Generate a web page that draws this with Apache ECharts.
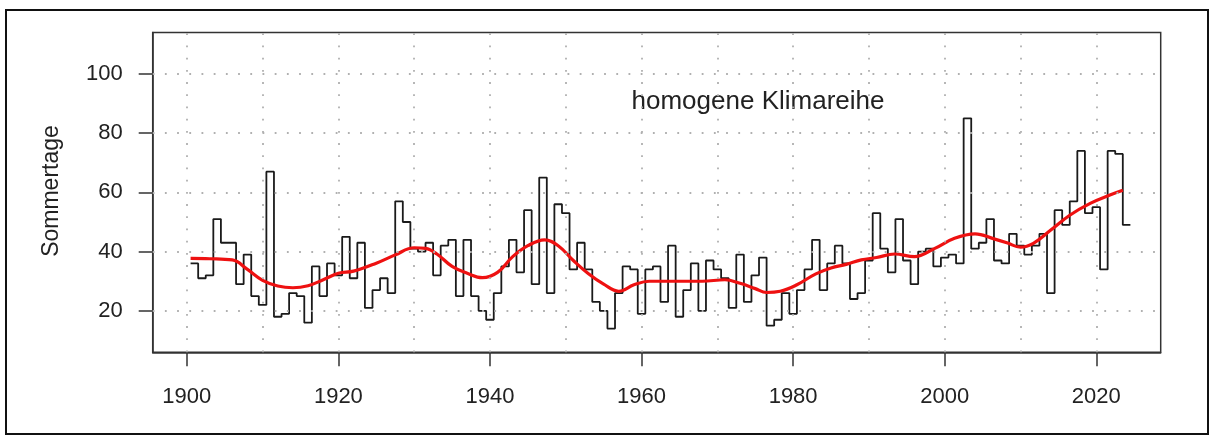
<!DOCTYPE html>
<html>
<head>
<meta charset="utf-8">
<script src="https://cdn.jsdelivr.net/npm/echarts@6/dist/echarts.min.js"></script>
<style>
html,body{margin:0;padding:0;background:#fff;}
#c{width:1216px;height:436px;}
</style>
</head>
<body>
<div id="c"></div>
<script>
// ---- data ----
var firstYear = 1901;
var sommertage = [
  36,31,32,51,43,43,29,39,25,22,      // 1901-1910
  67,18,19,26,25,16,35,25,36,32,      // 1911-1920
  45,31,43,21,27,31,26,57,50,41,      // 1921-1930
  40,43,32,42,44,25,44,25,20,17,      // 1931-1940
  26,35,44,33,54,29,65,26,56,53,      // 1941-1950
  34,43,34,23,20,14,26,35,34,19,      // 1951-1960
  34,35,23,42,18,27,36,20,37,34,      // 1961-1970
  31,21,39,23,32,38,15,17,26,19,      // 1971-1980
  27,34,44,27,36,42,36,24,26,37,      // 1981-1990
  53,41,33,51,37,29,40,41,35,38,      // 1991-2000
  39,36,85,41,43,51,37,36,46,42,      // 2001-2010
  39,42,46,26,54,49,57,74,53,55,      // 2011-2020
  34,74,73,49                         // 2021-2024
];
var smoothYears = [1900.5,1903,1906,1908,1910,1912,1914,1916,1918,1920,1922,1925,1927.5,1930,1931.5,1933,1935,1937,1939,1941,1943,1945,1947.2,1949,1951,1953,1955,1957,1959,1961,1965,1968,1971,1973,1975,1976.5,1978.3,1980.5,1983,1985,1987,1989,1991,1993.4,1996,1998.7,2001.3,2004,2006.5,2008.2,2010,2011.7,2014,2016.5,2019.2,2021.8,2023.5];
var smoothVals  = [37.7,37.6,37.2,34,30.3,28.4,27.8,28.5,30.5,32.7,33.4,36.1,38.9,41.3,41.1,39.2,35,32.7,31.2,33,38.3,42,44,42,37,32.5,29,26.6,28.8,30,30,30,30.5,29.3,27.5,26.2,26.6,28.8,32.5,34.5,35.7,37.2,38,39.2,38.3,41.1,44.5,46,44.3,43,41.5,42.8,47.3,52.3,56.3,59.1,60.7];
var xTickLabels = [1900,1920,1940,1960,1980,2000,2020];
var xGridYears = [1900,1910,1920,1930,1940,1950,1960,1970,1980,1990,2000,2010,2020];
var yTickLabels = [20,40,60,80,100];
var yAxisTitle = 'Sommertage';
var annotation = 'homogene Klimareihe';

// ---- build ----
var stepData = sommertage.map(function(v,i){ return [firstYear + i - 0.5, v]; });
stepData.push([firstYear + sommertage.length - 0.5, sommertage[sommertage.length-1]]);
var smoothData = smoothYears.map(function(y,i){ return [y, smoothVals[i]]; });
var gridMarks = xGridYears.map(function(y){ return {xAxis: y}; })
  .concat(yTickLabels.map(function(v){ return {yAxis: v}; }));

var FONT = 'Liberation Sans, Arial, sans-serif';
var chart = echarts.init(document.getElementById('c'), null, {renderer:'canvas'});
chart.setOption({
  animation: false,
  backgroundColor: '#fff',
  grid: {left: 152.7, top: 32.5, right: 55.3, bottom: 83.7, show: true,
         borderColor: '#333', borderWidth: 1.5, backgroundColor: 'transparent'},
  xAxis: {
    type: 'value', min: 1895.5, max: 2028.5,
    axisLine: {show: true, onZero: false, lineStyle: {color: '#333', width: 1.5}},
    axisTick: {show: true, length: 14, customValues: xTickLabels, lineStyle: {color: '#333', width: 1.5}},
    axisLabel: {customValues: xTickLabels, fontSize: 22, color: '#222', margin: 34, fontFamily: FONT,
                formatter: function(v){ return String(v); }},
    splitLine: {show: false}
  },
  yAxis: {
    type: 'value', min: 6, max: 114,
    axisLine: {show: true, onZero: false, lineStyle: {color: '#333', width: 1.5}},
    axisTick: {show: true, length: 14, customValues: yTickLabels, lineStyle: {color: '#333', width: 1.5}},
    axisLabel: {customValues: yTickLabels, fontSize: 22, color: '#222', margin: 30, fontFamily: FONT,
                formatter: function(v){ return String(v); }},
    splitLine: {show: false}
  },
  series: [
    {
      type: 'line', data: [], silent: true, z: 1,
      markLine: {
        silent: true, symbol: ['none','none'], label: {show: false},
        lineStyle: {color: '#b0b0b0', width: 1.8, type: [1.8, 10.4]},
        data: gridMarks, animation: false
      }
    },
    {
      type: 'line', data: stepData, step: 'end', showSymbol: false, z: 3,
      lineStyle: {color: '#1a1a1a', width: 1.8}
    },
    {
      type: 'line', data: smoothData, smooth: 0.4, showSymbol: false, z: 4,
      lineStyle: {color: '#ee1111', width: 3.2}
    }
  ],
  graphic: [
    {type: 'rect', shape: {x: 6, y: 10, width: 1202, height: 424}, style: {fill: 'none', stroke: '#111', lineWidth: 2}, silent: true},
    {type: 'text', x: 51.7, y: 191, rotation: Math.PI/2,
     style: {text: yAxisTitle, font: '23px ' + FONT, fill: '#222', align: 'center', verticalAlign: 'middle'}},
    {type: 'text', x: 758, y: 102,
     style: {text: annotation, font: '26px ' + FONT, fill: '#222', align: 'center', verticalAlign: 'middle'}}
  ]
});
</script>
</body>
</html>
